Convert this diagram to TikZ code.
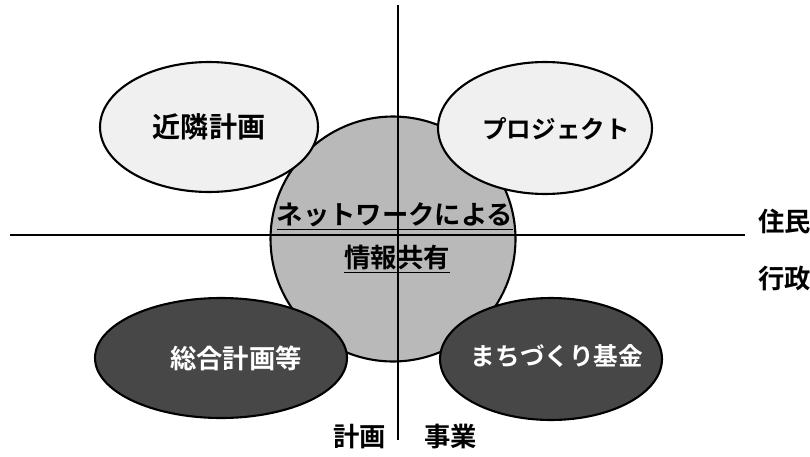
\documentclass[tikz,border=0pt]{standalone}
\usepackage{fontspec}
\usepackage{tikz}
\usetikzlibrary{shapes.geometric}
\newfontfamily\jpfont{Noto Sans CJK JP}[BoldFont={Noto Sans CJK JP Bold}]

\begin{document}
\begin{tikzpicture}[x=0.02cm,y=-0.02cm,
  blob/.style={ellipse,draw=black,line width=1.2pt,inner sep=0pt,font=\jpfont\bfseries\fontsize{16}{16}\selectfont},
  lightblob/.style={blob,fill=gray!12},
  darkblob/.style={blob,fill=black!72,text=white},
  axis/.style={draw=black,line width=0.9pt},
  sidelabel/.style={font=\jpfont\bfseries\fontsize{15}{15}\selectfont}]
\useasboundingbox (0,0) rectangle (810,456);

% central circle
\node[circle,draw=black,line width=1.2pt,fill=gray!55,minimum size=4.9cm] (share) at (393,239) {};

% four fields
\node[lightblob,minimum width=4.36cm,minimum height=2.6cm] (kinrin) at (209,127) {近隣計画};
\node[lightblob,minimum width=4.28cm,minimum height=2.64cm] (project) at (545,128) {};
\node[darkblob,minimum width=5.04cm,minimum height=2.4cm] (sogo) at (221,358) {};
\node[darkblob,minimum width=4.44cm,minimum height=2.44cm] (kikin) at (551,359) {};
\node[font=\jpfont\bfseries\fontsize{14}{14}\selectfont] (projtext) at (556,129) {プロジェクト};
\node[font=\jpfont\bfseries\fontsize{15}{15}\selectfont,text=white] (sogotext) at (236,358) {総合計画等};
\node[font=\jpfont\bfseries\fontsize{14}{14}\selectfont,text=white] (kikintext) at (557,356) {まちづくり基金};

% axes
\coordinate (top) at (398,5);
\coordinate (bottom) at (398,440);
\coordinate (left) at (10,235);
\coordinate (right) at (745,235);
\draw[axis] (top) -- (bottom);
\draw[axis] (left) -- (right);

\node[font=\jpfont\bfseries\fontsize{15}{15}\selectfont] (net) at (395,217) {\underline{ネットワークによる}};
\node[font=\jpfont\bfseries\fontsize{15}{15}\selectfont] (joho) at (397,259) {\underline{情報共有}};

\node[sidelabel,anchor=west] (jumin) at (752,221) {住民};
\node[sidelabel,anchor=west] (gyosei) at (752,279) {行政};
\node[sidelabel,anchor=east] (keikaku) at (392,437) {計画};
\node[sidelabel,anchor=west] (jigyo) at (418,437) {事業};
\end{tikzpicture}
\end{document}
